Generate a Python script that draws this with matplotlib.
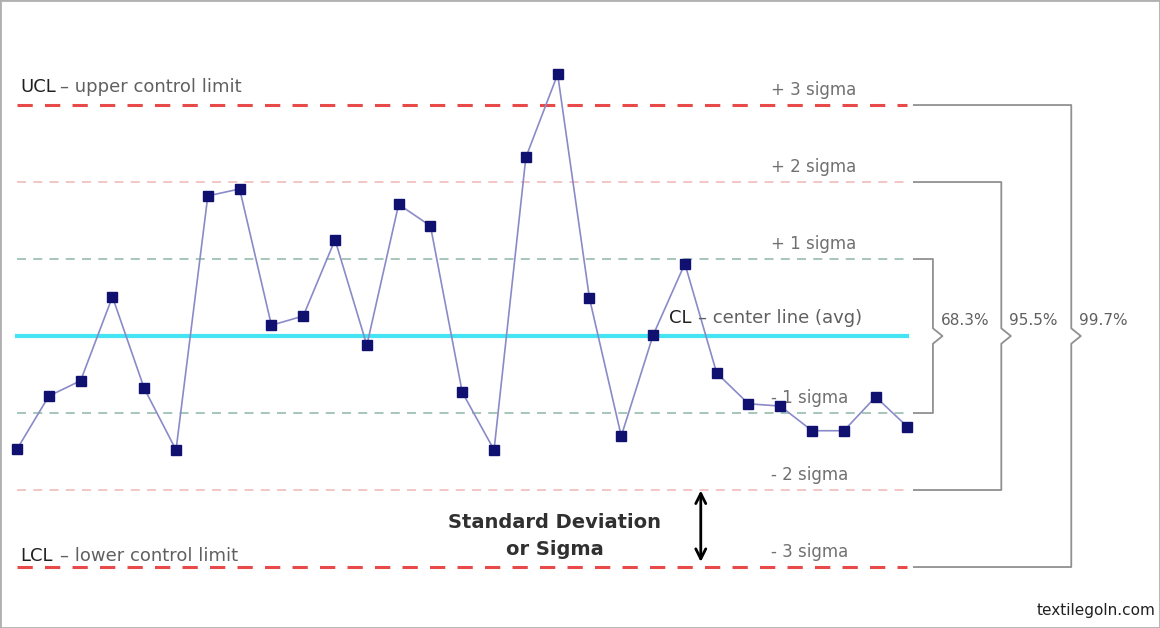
import numpy as np
import matplotlib.pyplot as plt

# data, in sigma units from the centre line
sample = np.arange(1, 30)
value = [-1.47, -0.78, -0.58, 0.51, -0.68, -1.48, 1.82, 1.91, 0.14, 0.26,
         1.25, -0.12, 1.71, 1.43, -0.73, -1.48, 2.32, 3.40, 0.49, -1.30,
         0.01, 0.94, -0.48, -0.88, -0.91, -1.23, -1.23, -0.79, -1.18]
levels = [3, 2, 1, 0, -1, -2, -3]
level_labels = ['+ 3 sigma', '+ 2 sigma', '+ 1 sigma', '', '- 1 sigma', '- 2 sigma', '- 3 sigma']
level_colors = ['#e84a4a', '#f5c0c0', '#9ec2b4', '#44e4f2', '#9ec2b4', '#f5c0c0', '#e84a4a']
brackets = [(1, '68.3%'), (2, '95.5%'), (3, '99.7%')]

fig = plt.figure(figsize=(11.6, 6.28), dpi=100)
ax = fig.add_axes([0, 0, 1, 1])
ax.set_xlim(0.465, 36.94)
ax.set_ylim(-3.792, 4.364)
ax.axis('off')

x0, x1 = 1, 29
for lv, lab, col in zip(levels, level_labels, level_colors):
    if lv == 0:
        ax.plot([x0, x1], [0, 0], color=col, lw=3, zorder=1)
    else:
        ax.plot([x0, x1], [lv, lv], color=col, lw=2.2 if abs(lv) == 3 else 1.3,
                ls=(0, (5, 4)), zorder=1)
        ax.text(24.7, lv + 0.08, lab, color='#707070', fontsize=12, va='bottom')

ax.plot(sample, value, color='#8a8ac8', lw=1.2, zorder=2)
ax.plot(sample, value, 's', color='#101070', ms=7, zorder=3)

ax.text(1.1, 3.12, 'UCL', color='#202020', fontsize=13, va='bottom')
ax.text(2.35, 3.12, '– upper control limit', color='#606060', fontsize=13, va='bottom')
ax.text(1.1, -2.98, 'LCL', color='#202020', fontsize=13, va='bottom')
ax.text(2.35, -2.98, '– lower control limit', color='#606060', fontsize=13, va='bottom')
ax.text(21.5, 0.12, 'CL', color='#202020', fontsize=13, va='bottom')
ax.text(22.4, 0.12, '– center line (avg)', color='#606060', fontsize=13, va='bottom')
ax.text(17.9, -2.6, 'Standard Deviation\nor Sigma', fontsize=14, fontweight='bold',
        color='#303030', ha='center', va='center', linespacing=1.5)
ax.annotate('', xy=(22.5, -1.97), xytext=(22.5, -2.97),
            arrowprops=dict(arrowstyle='<->', color='black', lw=2, mutation_scale=18))

# brackets on the right
for lv, lab in brackets:
    bx = {1: 29.8, 2: 31.95, 3: 34.15}[lv]
    ax.plot([29.2, bx, bx, bx + 0.3, bx, bx, 29.2],
            [lv, lv, 0.1, 0, -0.1, -lv, -lv], color='#909090', lw=1.3)
    ax.text(bx + 0.25, 0.1, lab, color='#606060', fontsize=11, va='bottom')

ax.text(36.8, -3.62, 'textilegoln.com', fontsize=11, ha='right', color='#202020')
fig.patches.append(plt.Rectangle((0, 0), 1, 1, transform=fig.transFigure,
                                 fill=False, ec='#b0b0b0', lw=2))
fig.savefig('out.png', dpi=100)
